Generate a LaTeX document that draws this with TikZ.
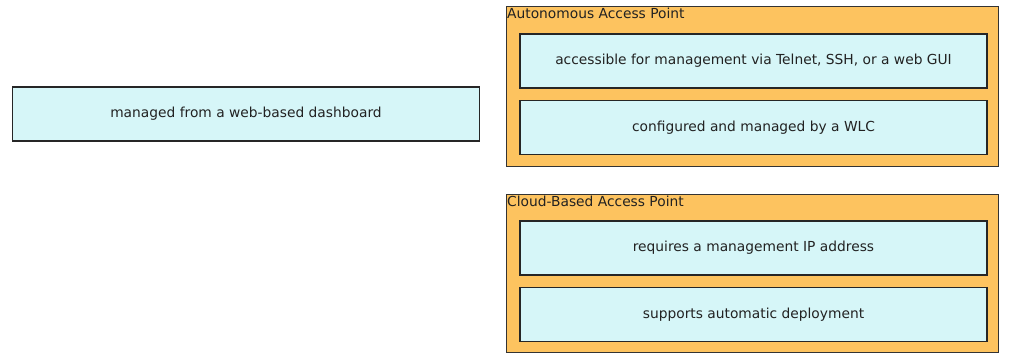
\documentclass[tikz,border=0pt]{standalone}
\usepackage{fontspec}
\setmainfont{DejaVu Sans}
\usetikzlibrary{positioning}
\definecolor{apOrange}{HTML}{FDC35F}
\definecolor{apCyan}{HTML}{D6F6F8}
\definecolor{apText}{HTML}{222222}
\tikzset{
  apgroup/.style={draw=black!80, fill=apOrange, line width=0.8pt, anchor=north west,
    minimum width=492pt, inner sep=0pt, outer sep=0pt},
  aptitle/.style={anchor=north west, inner xsep=1pt, inner ysep=2pt, text=apText,
    font=\fontsize{13.8}{16}\selectfont},
  apitem/.style={draw=black!85, fill=apCyan, line width=1.6pt, minimum width=467pt,
    minimum height=54pt, inner sep=0pt, text=apText, font=\fontsize{13.8}{16}\selectfont}
}
\begin{document}
\begin{tikzpicture}[x=1pt, y=-1pt]
    \useasboundingbox (0,0) rectangle (1015,363);
    % Kasten links
    \node[apitem] (dash) at (246,114) {managed from a web-based dashboard};

    % Gruppe oben
    \node[apgroup, minimum height=160pt] (auto) at (506,6) {};
    \node[aptitle] (autoT) at (auto.north west) {Autonomous Access Point};
    \node[apitem] (telnet) at (753.5,61) {accessible for management via Telnet, SSH, or a web GUI};
    \node[apitem, below=11pt of telnet] (wlc) {configured and managed by a WLC};

    % Gruppe unten
    \node[apgroup, minimum height=158pt] (cloud) at (506,194) {};
    \node[aptitle] (cloudT) at (cloud.north west) {Cloud-Based Access Point};
    \node[apitem] (mgmt) at (753.5,248) {requires a management IP address};
    \node[apitem, below=11pt of mgmt] (deploy) {supports automatic deployment};
\end{tikzpicture}
\end{document}
